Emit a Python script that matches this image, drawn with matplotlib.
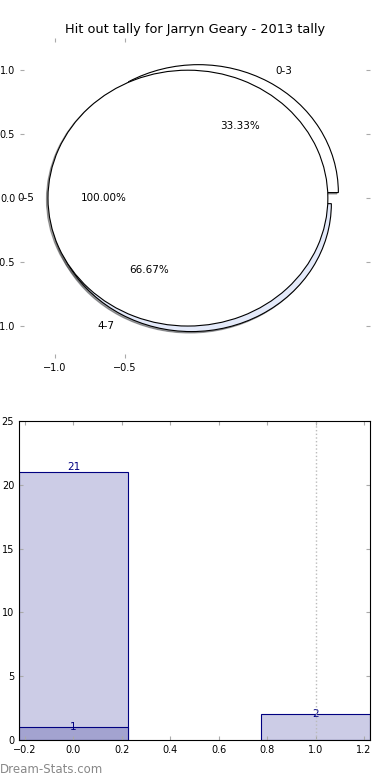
import matplotlib
matplotlib.use("Agg")
import matplotlib.pyplot as plt

# Pie data: full range, then split ranges
full_labels = ["0-5"]
full_values = [3]
split_labels = ["0-3", "4-7"]
split_values = [1, 2]

# Bar data
bar_x = [0, 1]
bar_totals = [21, 2]
bar_sub = [1, 0]

title = "Hit out tally for Jarryn Geary - 2013 tally"

fig = plt.figure(figsize=(3.9, 7.8), dpi=100)

# Top: pie chart
ax1 = fig.add_axes([0.0513, 0.541, 0.897, 0.410])
shadow = {"ox": -0.008, "oy": -0.008}
ax1.pie(split_values, labels=split_labels, colors=["white", "#e4eafa"],
        explode=[0.05, 0.05], autopct="%.2f%%", shadow=shadow,
        wedgeprops={"linewidth": 0.8, "edgecolor": "black"},
        textprops={"fontsize": 7.5})
ax1.pie(full_values, labels=full_labels, colors=["white"],
        explode=[0.05], autopct="%.2f%%", shadow=shadow,
        wedgeprops={"linewidth": 0.8, "edgecolor": "black"},
        textprops={"fontsize": 7.5})
ax1.set_aspect("auto")
ax1.set_xlim(-1.25, 1.25)
ax1.set_ylim(-1.25, 1.25)
ax1.set_xticks([-1.0, -0.5])
ax1.set_yticks([-1.0, -0.5, 0.0, 0.5, 1.0])
ax1.tick_params(direction="in", length=3, color="#aaaaaa", labelsize=7,
                top=True, right=True)
ax1.set_title(title, fontsize=9.3, pad=4)

# Bottom: bar chart
ax2 = fig.add_axes([0.0487, 0.0513, 0.9, 0.409])
ax2.bar(bar_x, bar_totals, width=0.45, color="#cccce6",
        edgecolor="#000080", linewidth=0.8)
ax2.bar(bar_x[0], bar_sub[0], width=0.45, color="#a3a3d0",
        edgecolor="#000080", linewidth=0.8)
for x, h in zip(bar_x, bar_totals):
    ax2.text(x, h, str(h), ha="center", va="bottom" if h > 10 else "center",
             color="#000080", fontsize=7.5)
for x, h in zip(bar_x, bar_sub):
    if h > 0:
        ax2.text(x, h, str(h), ha="center", va="center",
                 color="#000080", fontsize=7.5)
ax2.axvline(1.0, color="#bbbbbb", linestyle=":", linewidth=1, zorder=3)
ax2.set_xlim(-0.225, 1.225)
ax2.set_ylim(0, 25)
ax2.set_yticks([0, 5, 10, 15, 20, 25])
ax2.tick_params(direction="in", length=3, color="#aaaaaa", labelsize=7,
                top=True, right=True)

fig.text(0.0, 0.0045, "Dream-Stats.com", color="#888888", fontsize=8.5,
         ha="left", va="bottom")

fig.savefig("out.png", dpi=100)
